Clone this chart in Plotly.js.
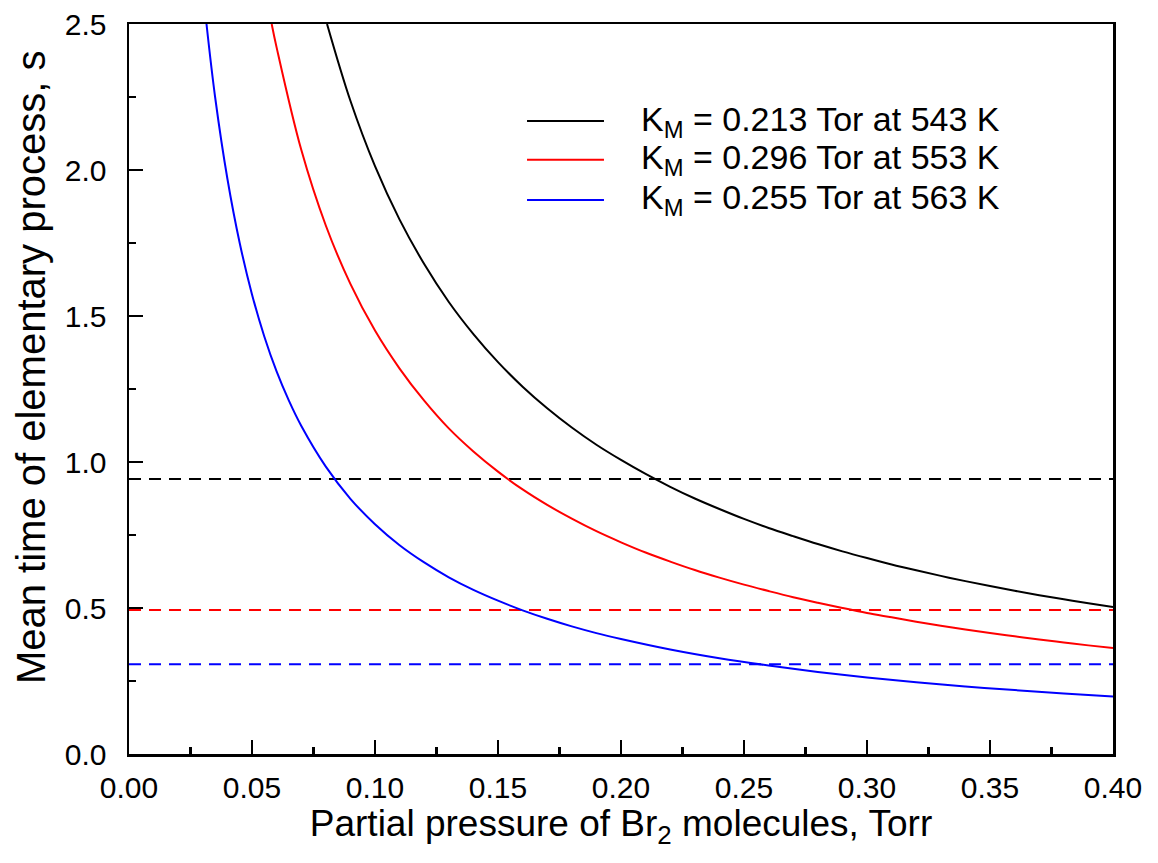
<!DOCTYPE html>
<html>
<head>
<meta charset="utf-8">
<script src="https://cdn.plot.ly/plotly-3.0.1.min.js"></script>
<style>html,body{margin:0;padding:0;background:#fff;}#chart{width:1158px;height:863px;}</style>
</head>
<body>
<div id="chart"></div>
<script>
// Curves (pressure, Torr -> mean time, s)
const pBlack = [0.0805,0.09,0.10,0.11,0.12,0.13,0.14,0.15,0.16,0.17,0.18,0.19,0.20,0.21,0.22,0.23,0.24,0.25,0.26,0.27,0.28,0.29,0.30,0.31,0.32,0.33,0.34,0.35,0.36,0.37,0.38,0.39,0.40];
const tBlack = [2.50,2.237,2.013,1.830,1.678,1.548,1.438,1.342,1.258,1.184,1.118,1.059,1.007,0.959,0.915,0.875,0.839,0.805,0.774,0.746,0.719,0.694,0.671,0.649,0.629,0.610,0.592,0.575,0.559,0.544,0.530,0.516,0.503];
const pRed = [0.058,0.06,0.07,0.08,0.09,0.10,0.11,0.12,0.13,0.14,0.15,0.16,0.17,0.18,0.19,0.20,0.21,0.22,0.23,0.24,0.25,0.26,0.27,0.28,0.29,0.30,0.31,0.32,0.33,0.34,0.35,0.36,0.37,0.38,0.39,0.40];
const tRed = [2.50,2.42,2.07,1.81,1.61,1.45,1.32,1.21,1.115,1.036,0.967,0.906,0.853,0.806,0.763,0.725,0.690,0.659,0.630,0.604,0.580,0.558,0.537,0.518,0.500,0.483,0.468,0.453,0.439,0.426,0.414,0.403,0.392,0.382,0.372,0.363];
const pBlue = [0.0315,0.035,0.04,0.045,0.05,0.055,0.06,0.065,0.07,0.08,0.09,0.10,0.11,0.12,0.13,0.14,0.15,0.16,0.17,0.18,0.19,0.20,0.22,0.24,0.26,0.28,0.30,0.32,0.34,0.36,0.38,0.40];
const tBlue = [2.50,2.25,1.97,1.75,1.574,1.43,1.31,1.21,1.124,0.984,0.874,0.787,0.715,0.656,0.605,0.562,0.525,0.492,0.463,0.437,0.414,0.394,0.358,0.328,0.303,0.281,0.262,0.246,0.231,0.219,0.207,0.197];
// Horizontal dashed levels
const levelX = [0, 0.40];
const levelBlack = [0.942, 0.942];
const levelRed = [0.493, 0.493];
const levelBlue = [0.307, 0.307];
// Legend labels and axis titles
const labels = ["K<sub>M</sub> = 0.213 Tor at 543 K","K<sub>M</sub> = 0.296 Tor at 553 K","K<sub>M</sub> = 0.255 Tor at 563 K"];
const colors = ["#000000","#ff0000","#0000ff"];
const xTitle = 'Partial pressure of Br<sub>2</sub> molecules, Torr';
const yTitle = 'Mean time of elementary process, s';

const FONT = "Arial, 'Liberation Sans', sans-serif";
const curve = (x,y,c,name)=>({x:x,y:y,mode:'lines',name:name,line:{color:c,width:2,shape:'spline',smoothing:1},showlegend:false,hoverinfo:'skip'});
const dashed = (x,y,c)=>({x:x,y:y,mode:'lines',line:{color:c,width:2,dash:'12px,8px'},showlegend:false,hoverinfo:'skip'});

const data = [
  dashed(levelX, levelBlack, colors[0]),
  dashed(levelX, levelRed, colors[1]),
  dashed(levelX, levelBlue, colors[2]),
  curve(pBlack, tBlack, colors[0], labels[0]),
  curve(pRed, tRed, colors[1], labels[1]),
  curve(pBlue, tBlue, colors[2], labels[2])
];

const legY = [0.867, 0.814, 0.759];
const shapes = legY.map((y,i)=>({type:'line',xref:'paper',yref:'paper',x0:0.4045,x1:0.4827,y0:y,y1:y,line:{color:colors[i],width:2}}));
const annotations = legY.map((y,i)=>({xref:'paper',yref:'paper',x:0.518,y:y,xanchor:'left',yanchor:'middle',text:labels[i],showarrow:false,font:{family:FONT,size:34,color:'#000'}}));
annotations.push({xref:'paper',yref:'paper',x:-0.0996,y:0.530,xanchor:'center',yanchor:'middle',textangle:-90,text:yTitle,showarrow:false,font:{family:FONT,size:40,color:'#000'}});

const axisCommon = {
  showgrid:false, zeroline:false, showline:true, linecolor:'#000', linewidth:2.5, mirror:true,
  ticks:'inside', ticklen:14, tickwidth:2.5, tickcolor:'#000',
  tickfont:{family:FONT,size:30,color:'#000'}
};

const layout = {
  width:1158, height:863,
  margin:{l:129, r:45, t:24, b:109},
  paper_bgcolor:'#fff', plot_bgcolor:'#fff',
  font:{family:FONT,color:'#000'},
  xaxis:Object.assign({}, axisCommon, {
    range:[0,0.40], dtick:0.05, tick0:0, tickformat:'.2f',
    minor:{ticks:'inside', ticklen:7, tickwidth:2.5, tickcolor:'#000', dtick:0.025, tick0:0, showgrid:false},
    ticklabelstandoff:5,
    title:{text:xTitle, font:{family:FONT,size:37,color:'#000'}, standoff:0}
  }),
  yaxis:Object.assign({}, axisCommon, {
    range:[0,2.5], dtick:0.5, tick0:0, tickformat:'.1f',
    minor:{ticks:'inside', ticklen:7, tickwidth:2.5, tickcolor:'#000', dtick:0.25, tick0:0, showgrid:false},
    ticklabelstandoff:14
  }),
  shapes:shapes,
  annotations:annotations
};

Plotly.newPlot('chart', data, layout, {displayModeBar:false, staticPlot:true});
</script>
</body>
</html>
